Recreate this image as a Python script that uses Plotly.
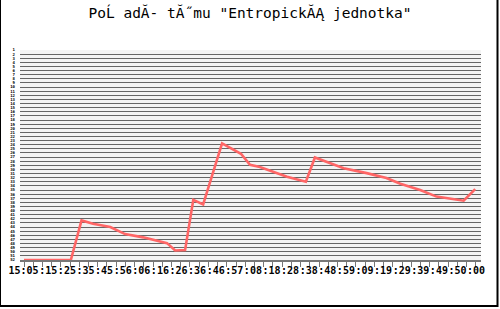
import plotly.graph_objects as go

# ---- data ----
title_text = 'PoĹ adĂ- tĂ˝mu "EntropickĂĄ jednotka"'

# minutes after 15:05 and team rank at that moment
minutes = [0.0, 5.7, 7.0, 8.4, 10.5, 12.3, 14.5, 16.6, 17.4, 18.4, 19.6, 20.6, 21.8,
           24.1, 26.4, 27.5, 28.7, 32.0, 34.3, 35.4, 37.2, 38.9, 41.7, 44.1, 45.8,
           48.2, 50.2, 53.5, 54.9]
rank = [52, 52, 42.4, 43.2, 44.0, 45.7, 46.5, 47.5, 47.9, 49.7, 49.6, 37.4, 38.5,
        23.7, 26.2, 28.9, 29.4, 31.8, 33.0, 27.1, 28.5, 29.7, 30.9, 32.1, 33.5,
        35.0, 36.6, 37.6, 34.8]

x_tick_labels = ["15:05", ":15", ":25", ":35", ":45", ":56", ":06", ":16", ":26", ":36",
                 ":46", ":57", ":08", ":18", ":28", ":38", ":48", ":59", ":09", ":19",
                 ":29", ":39", ":49", ":50", ":00"]
rank_labels = [str(r) for r in range(1, 53)]

# ---- geometry helpers (pixels of the 500x309 canvas) ----
W, H = 500, 309
L, R, T, B = 20, 481, 50, 260
PX_PER_MIN = 452 / 55.0
X0_PX = 24


def px_to_min(px):
    return (px - X0_PX) / PX_PER_MIN


x_range = [px_to_min(L), px_to_min(R)]
tick_minutes = [px_to_min(24 + 9.22 * k) for k in range(50)]
label_minutes = [px_to_min(23.5)] + [px_to_min(48.3 + 18.6 * (i - 1)) for i in range(1, len(x_tick_labels))]

fig = go.Figure()
fig.add_trace(go.Scatter(x=minutes, y=rank, mode="lines",
                         line=dict(color="#ff6666", width=2.6), showlegend=False,
                         hoverinfo="skip"))
# invisible trace to carry the label axis
fig.add_trace(go.Scatter(x=[x_range[0]], y=[52], xaxis="x2", mode="markers",
                         marker=dict(opacity=0), showlegend=False, hoverinfo="skip"))

fig.update_layout(
    width=W, height=H,
    margin=dict(l=L, r=W - R, t=T, b=H - B, autoexpand=False),
    paper_bgcolor="white", plot_bgcolor="#f4f4f4",
    title=dict(text=title_text, x=0.5, xref="container", xanchor="center",
               y=1 - 13 / H, yref="container", yanchor="middle",
               font=dict(family="DejaVu Sans Mono", size=14.5, color="black")),
    xaxis=dict(range=x_range, tickmode="array", tickvals=tick_minutes, ticktext=[""] * len(tick_minutes),
               ticks="outside", ticklen=5, tickcolor="#777", tickwidth=1,
               showgrid=False, showline=True, linecolor="#777", linewidth=2, zeroline=False,
               fixedrange=True),
    xaxis2=dict(range=x_range, overlaying="x", side="bottom", tickmode="array",
                tickvals=label_minutes, ticktext=x_tick_labels, ticks="", showgrid=False,
                showline=False, zeroline=False, ticklabelstandoff=3, tickangle=0,
                tickfont=dict(family="DejaVu Sans Mono", size=10, color="black", weight="bold")),
    yaxis=dict(range=[52, 1], tickmode="array", tickvals=list(range(1, 53)), ticktext=rank_labels,
               showgrid=True, gridcolor="#666", gridwidth=1.3, zeroline=False,
               showline=False, ticks="", ticklabelstandoff=4,
               tickfont=dict(family="DejaVu Sans Mono", size=4, color="black", weight="bold")),
)


def px2paper_x(px):
    return (px - L) / (R - L)


def py2paper_y(py):
    return (B - py) / (B - T)


# outer frame (left thin, right/bottom heavier)
frame = [
    (0.5, 0, 0.5, 307, 1),
    (497.5, 0, 497.5, 307, 2),
    (0, 306, 498, 306, 2),
]
for x0, y0, x1, y1, w in frame:
    fig.add_shape(type="line", xref="paper", yref="paper",
                  x0=px2paper_x(x0), y0=py2paper_y(y0), x1=px2paper_x(x1), y1=py2paper_y(y1),
                  line=dict(color="black", width=w))

fig.write_html("out.html")
